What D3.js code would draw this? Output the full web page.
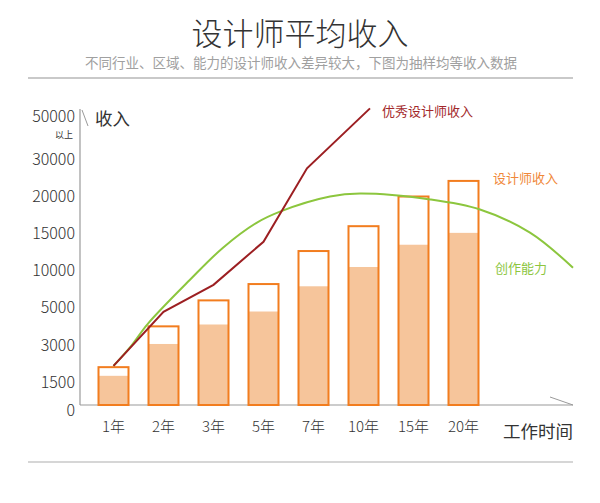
<!DOCTYPE html>
<html lang="zh">
<head>
<meta charset="UTF-8">
<title>设计师平均收入</title>
<script src="https://cdn.jsdelivr.net/npm/d3@7"></script>
<style>
  body { margin: 0; background: #fff; }
  svg { display: block; font-family: "Noto Sans CJK SC", sans-serif; }
</style>
</head>
<body>
<script>
  // categories and values
  const years = ["1年", "2年", "3年", "5年", "7年", "10年", "15年", "20年"];
  const incomeTop = [2100, 4000, 6000, 8200, 12650, 16000, 20000, 24200];   // outlined bar height
  const incomeBase = [1750, 3050, 4100, 4800, 7900, 10500, 13500, 15100];   // filled part
  const yTicks = [0, 1500, 3000, 5000, 10000, 15000, 20000, 30000, 50000];

  // 优秀设计师收入: x in category steps, y in income
  const topX = [0, 1, 2, 3, 3.87, 5.13];
  const topY = [2150, 4780, 8100, 13900, 27600, 57500];

  // 创作能力 curve samples
  const abilityX = [0, 0.35, 0.69, 1.53, 2.19, 2.87, 3.33, 4.33, 4.93, 6.33, 7.33, 8.33, 9.19];
  const abilityY = [2150, 2950, 4150, 8780, 13100, 16490, 17970, 20000, 20800, 19600, 18240, 15135, 10400];

  const width = 600, height = 503;
  const baseY = 405, axisX = 80;
  const orange = "#f27d1f", peach = "#f6c59b", darkRed = "#9c1f22", green = "#8cc63e";

  const svg = d3.select("body").append("svg")
    .attr("width", width)
    .attr("height", height);

  // header
  svg.append("text")
    .attr("x", 300).attr("y", 31)
    .attr("text-anchor", "middle").attr("dominant-baseline", "central")
    .attr("font-size", 31).attr("font-weight", 300).attr("fill", "#333")
    .text("设计师平均收入");
  svg.append("text")
    .attr("x", 301).attr("y", 62)
    .attr("text-anchor", "middle").attr("dominant-baseline", "central")
    .attr("font-size", 13.5).attr("fill", "#a0a0a0")
    .text("不同行业、区域、能力的设计师收入差异较大，下图为抽样均等收入数据");
  svg.append("line")
    .attr("x1", 28).attr("x2", 573).attr("y1", 78).attr("y2", 78)
    .attr("stroke", "#c9c9c9").attr("stroke-width", 2);
  svg.append("line")
    .attr("x1", 28).attr("x2", 573).attr("y1", 462).attr("y2", 462)
    .attr("stroke", "#c9c9c9").attr("stroke-width", 1.5);

  // scales
  const x = d3.scaleBand().domain(years).range([88.5, 488.5])
    .paddingInner(0.4).paddingOuter(0.2);
  const xi = d3.scaleLinear().domain([0, years.length - 1])
    .range([x(years[0]) + x.bandwidth() / 2, x(years[years.length - 1]) + x.bandwidth() / 2]);
  // uneven tick spacing: 0 sits a little lower, the rest are evenly spread
  const tickPos = yTicks.map((d, i) => i === 0 ? baseY : 382 - (i - 1) * 37.1);
  const y = d3.scaleLinear().domain(yTicks).range(tickPos);

  // y axis
  const yAxis = svg.append("g")
    .attr("transform", `translate(${axisX - 5},0)`)
    .call(d3.axisLeft(y).tickValues(yTicks).tickSize(0).tickPadding(0).tickFormat(d3.format("d")));
  yAxis.select(".domain").remove();
  yAxis.selectAll("text")
    .attr("font-family", "Noto Sans CJK SC, sans-serif")
    .attr("font-size", 16).attr("fill", "#333").attr("font-weight", 300)
    .attr("dy", d => d === 0 ? "0.65em" : d === 50000 ? "-0.05em" : "0.32em");
  svg.append("text")
    .attr("x", axisX - 7).attr("y", 134)
    .attr("text-anchor", "end").attr("dominant-baseline", "central")
    .attr("font-size", 9).attr("fill", "#333")
    .text("以上");

  svg.append("line")
    .attr("x1", axisX).attr("x2", axisX).attr("y1", baseY).attr("y2", 109)
    .attr("stroke", "#9a9a9a").attr("stroke-width", 1.2);
  svg.append("line")
    .attr("x1", axisX + 2).attr("x2", axisX + 8).attr("y1", 110).attr("y2", 126)
    .attr("stroke", "#9a9a9a").attr("stroke-width", 1);
  svg.append("text")
    .attr("x", 95).attr("y", 117)
    .attr("dominant-baseline", "central")
    .attr("font-size", 17.5).attr("fill", "#333")
    .text("收入");

  // x axis
  const xAxis = svg.append("g")
    .attr("transform", `translate(0,${baseY})`)
    .call(d3.axisBottom(x).tickSize(0).tickPadding(16));
  xAxis.select(".domain").remove();
  xAxis.selectAll("text")
    .attr("font-family", "Noto Sans CJK SC, sans-serif")
    .attr("font-size", 15).attr("fill", "#333").attr("font-weight", 300);

  svg.append("line")
    .attr("x1", axisX).attr("x2", 573).attr("y1", baseY).attr("y2", baseY)
    .attr("stroke", "#9a9a9a").attr("stroke-width", 1.2);
  svg.append("line")
    .attr("x1", 550).attr("x2", 573).attr("y1", 397).attr("y2", 405)
    .attr("stroke", "#9a9a9a").attr("stroke-width", 1);
  svg.append("text")
    .attr("x", 573).attr("y", 430)
    .attr("text-anchor", "end").attr("dominant-baseline", "central")
    .attr("font-size", 17.5).attr("fill", "#333")
    .text("工作时间");

  // bars
  const bars = svg.append("g").selectAll("g")
    .data(years.map((d, i) => ({ year: d, top: incomeTop[i], base: incomeBase[i] })))
    .join("g");
  bars.append("rect")
    .attr("x", d => x(d.year))
    .attr("y", d => y(d.top))
    .attr("width", x.bandwidth())
    .attr("height", d => baseY - y(d.top))
    .attr("fill", "#fff");
  bars.append("rect")
    .attr("x", d => x(d.year))
    .attr("y", d => y(d.base))
    .attr("width", x.bandwidth())
    .attr("height", d => baseY - y(d.base))
    .attr("fill", peach);
  bars.append("rect")
    .attr("x", d => x(d.year))
    .attr("y", d => y(d.top))
    .attr("width", x.bandwidth())
    .attr("height", d => baseY - y(d.top))
    .attr("fill", "none")
    .attr("stroke", orange).attr("stroke-width", 2);

  // lines
  const line = d3.line().x(d => xi(d[0])).y(d => y(d[1]));
  svg.append("path")
    .datum(d3.zip(abilityX, abilityY))
    .attr("d", line.curve(d3.curveCatmullRom.alpha(0.5)))
    .attr("fill", "none").attr("stroke", green).attr("stroke-width", 2);
  svg.append("path")
    .datum(d3.zip(topX, topY))
    .attr("d", line.curve(d3.curveLinear))
    .attr("fill", "none").attr("stroke", darkRed).attr("stroke-width", 2);

  // series labels
  svg.append("text")
    .attr("x", 382).attr("y", 110).attr("dominant-baseline", "central")
    .attr("font-size", 13).attr("fill", "#a3282b")
    .text("优秀设计师收入");
  svg.append("text")
    .attr("x", 493).attr("y", 177).attr("dominant-baseline", "central")
    .attr("font-size", 13).attr("fill", "#f0883a")
    .text("设计师收入");
  svg.append("text")
    .attr("x", 495).attr("y", 267).attr("dominant-baseline", "central")
    .attr("font-size", 13).attr("fill", "#8dc63f")
    .text("创作能力");
</script>
</body>
</html>
